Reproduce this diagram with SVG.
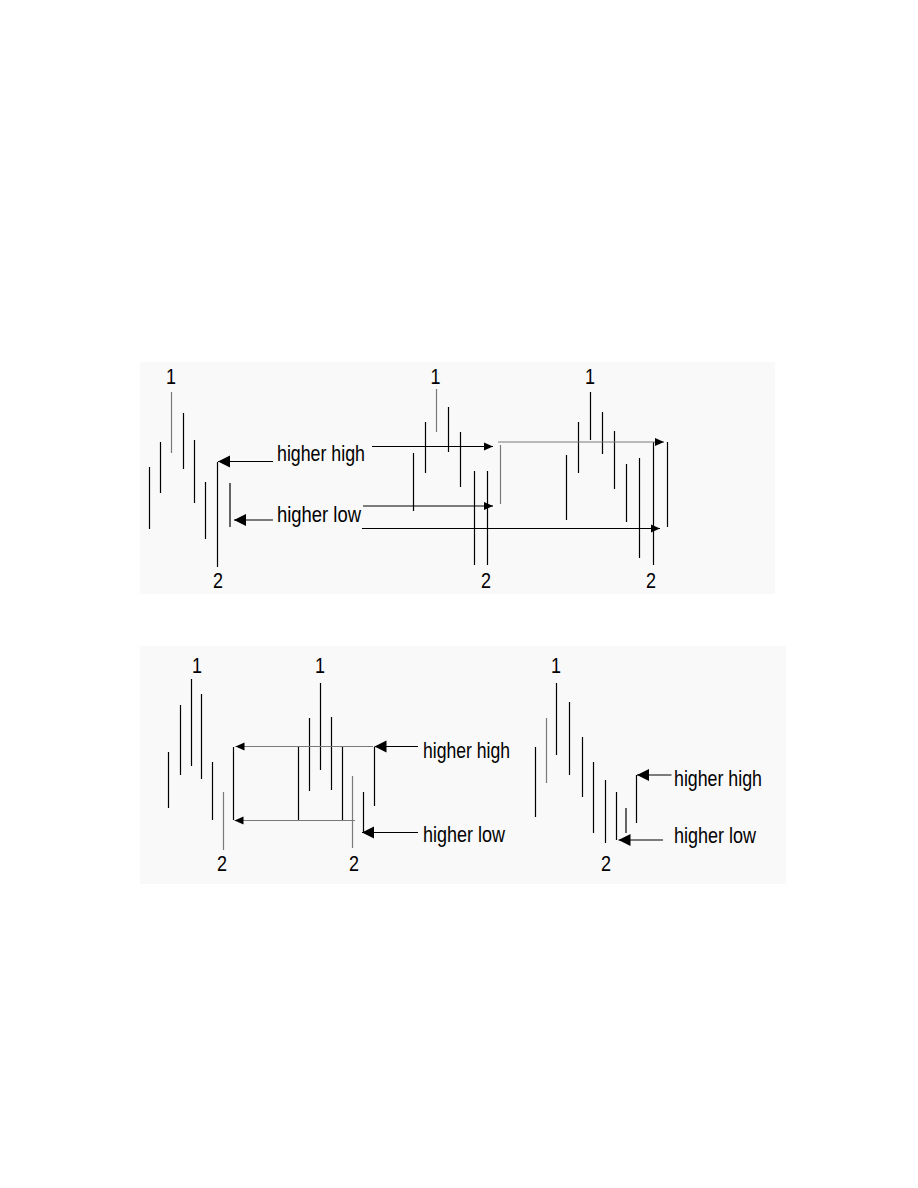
<svg xmlns="http://www.w3.org/2000/svg" width="918" height="1188" viewBox="0 0 918 1188">
<style>
.bg{fill:#f9f9f9}
.k{stroke:#000;stroke-width:1.2;fill:none}
.g{stroke:#7a7a7a;stroke-width:1.2;fill:none}
.lbl{font-family:"Liberation Sans",Arial,sans-serif;font-size:22px;fill:#000}
.num{font-family:"Liberation Sans",Arial,sans-serif;font-size:22px;fill:#000;text-anchor:middle}
.big{marker-end:url(#ahBig)}
.sm{marker-end:url(#ahSmall)}
</style>
<defs>
<marker id="ahBig" markerUnits="userSpaceOnUse" markerWidth="12" markerHeight="12" refX="12" refY="6" orient="auto" overflow="visible">
<path d="M0,0 L12,6 L0,12 z" fill="#000"/>
</marker>
<marker id="ahSmall" markerUnits="userSpaceOnUse" markerWidth="9" markerHeight="8" refX="9" refY="4" orient="auto" overflow="visible">
<path d="M0,0 L9,4 L0,8 z" fill="#000"/>
</marker>
</defs>
<rect width="918" height="1188" fill="#fff"/>
<rect id="panel-top" class="bg" x="140" y="362" width="635" height="232"/>
<rect id="panel-bottom" class="bg" x="140" y="646" width="646" height="238"/>

<g id="top-left">
<path class="k" d="M149.5,467V529M160.5,442V493M183.5,413V469M194.5,440V503M205.5,482V539M217.5,462V567M230,483V527"/>
<path class="g" d="M171.5,392V453"/>
<text class="num" x="171" y="384" textLength="10" lengthAdjust="spacingAndGlyphs">1</text>
<text class="num" x="218" y="588" textLength="10" lengthAdjust="spacingAndGlyphs">2</text>
</g>
<g id="top-middle">
<path class="k" d="M413.5,453V511M425.5,422V473M448.5,407V452M460.5,432V487M474.5,471V565M487.5,471V565"/>
<path class="g" d="M436.5,389V432M500.5,445V504"/>
<text class="num" x="435.5" y="384" textLength="10" lengthAdjust="spacingAndGlyphs">1</text>
<text class="num" x="486" y="588" textLength="10" lengthAdjust="spacingAndGlyphs">2</text>
</g>
<g id="top-right">
<path class="k" d="M566.5,455V520M578.5,422V473M590.5,392V440M602.5,412V454M614.5,431V489M626.5,464V522M639.5,458V558M653.5,442V565M667.5,442V527"/>
<text class="num" x="590" y="384" textLength="10" lengthAdjust="spacingAndGlyphs">1</text>
<text class="num" x="651" y="588" textLength="10" lengthAdjust="spacingAndGlyphs">2</text>
</g>
<g id="top-labels">
<text class="lbl" x="277" y="461" textLength="88" lengthAdjust="spacingAndGlyphs">higher high</text>
<text class="lbl" x="277" y="522" textLength="84" lengthAdjust="spacingAndGlyphs">higher low</text>
</g>

<g id="bottom-left">
<path class="k" d="M168.5,752V808M180.5,705V775M191.5,679V766M201.5,694V779M212.5,762V820M233.5,747V820"/>
<path class="g" d="M223.5,792V850"/>
<text class="num" x="197" y="673" textLength="10" lengthAdjust="spacingAndGlyphs">1</text>
<text class="num" x="222" y="871" textLength="10" lengthAdjust="spacingAndGlyphs">2</text>
</g>
<g id="bottom-middle">
<path class="k" d="M298.5,747V820M309.5,718V791M320.5,683V770M331.5,717V790M342.5,747V820M363.5,792V833M374.5,747V806"/>
<path class="g" d="M352.5,776V848"/>
<text class="num" x="320" y="673" textLength="10" lengthAdjust="spacingAndGlyphs">1</text>
<text class="num" x="354" y="871" textLength="10" lengthAdjust="spacingAndGlyphs">2</text>
</g>
<g id="bottom-right">
<path class="k" d="M535.5,747V817M556.5,683V755M569.5,702V775M582.5,737V797M593.5,762V833M605.5,780V843M616.5,792V840M626,808V833M636.5,775V823"/>
<path class="g" d="M546.5,718V783"/>
<text class="num" x="556" y="673" textLength="10" lengthAdjust="spacingAndGlyphs">1</text>
<text class="num" x="606" y="871" textLength="10" lengthAdjust="spacingAndGlyphs">2</text>
</g>
<g id="bottom-labels">
<text class="lbl" x="423" y="758" textLength="87" lengthAdjust="spacingAndGlyphs">higher high</text>
<text class="lbl" x="423" y="842" textLength="82" lengthAdjust="spacingAndGlyphs">higher low</text>
<text class="lbl" x="674" y="786" textLength="88" lengthAdjust="spacingAndGlyphs">higher high</text>
<text class="lbl" x="674" y="843" textLength="82" lengthAdjust="spacingAndGlyphs">higher low</text>
</g>

<g id="connectors">
<path class="k big" d="M273,461.5H218"/>
<path class="k big" d="M273,520H234"/>
<path class="k sm" d="M372,446.5H493"/>
<path class="k sm" d="M363,506H493"/>
<path class="k sm" d="M362,528.5H660"/>
<path class="g sm" d="M498,442H664"/>
<path class="g sm" d="M373,746.5H235.5"/>
<path class="g sm" d="M355,820.5H234.5"/>
<path class="k big" d="M418,746.5H374.5"/>
<path class="k big" d="M418,832.5H362"/>
<path class="k big" d="M671.5,775H637"/>
<path class="k big" d="M663,840H618.5"/>
</g>
</svg>
